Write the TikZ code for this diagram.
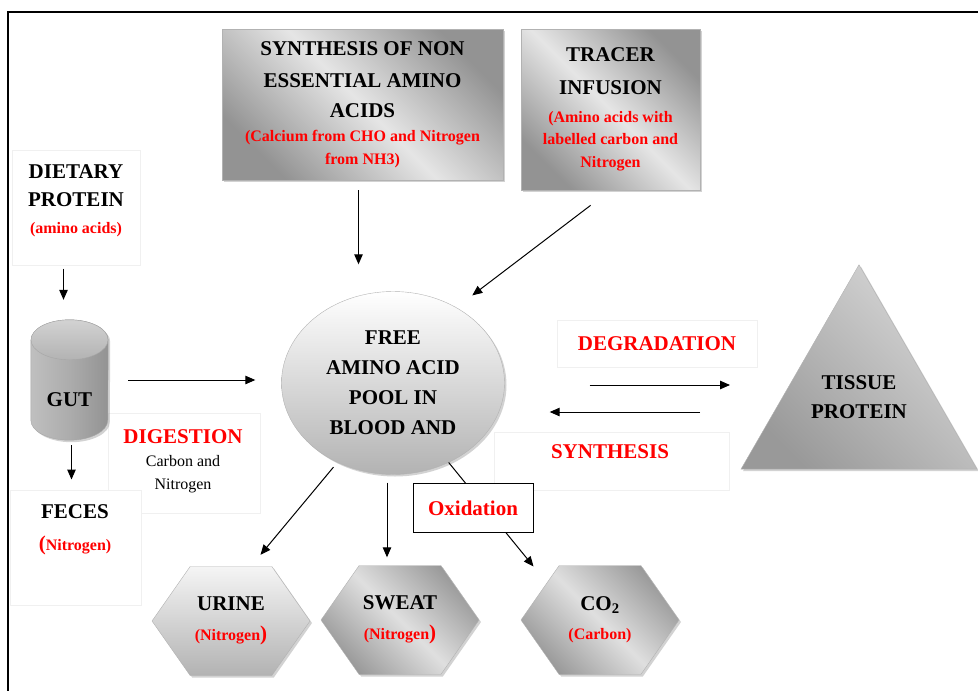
\documentclass[tikz,border=0pt]{standalone}
\usepackage{fontspec}
\setmainfont{Liberation Serif}
\usetikzlibrary{shapes.geometric,shapes.symbols,shadows,arrows.meta}

\newcommand\redtxt[1]{{\color{red}\fontsize{16}{22}\selectfont #1}}
\newcommand\thintxt[1]{{\mdseries\fontsize{16}{22}\selectfont #1}}

\begin{document}
\begin{tikzpicture}[x=1pt, y=-1pt,
    txt/.style={font=\fontsize{21}{30}\selectfont\bfseries, align=center, inner sep=0pt},
    faint/.style={draw=gray!12, fill=white, line width=1pt, inner sep=0pt},
    shade/.style={drop shadow={shadow xshift=2pt, shadow yshift=-2pt, fill=gray!70}},
    greybox/.style={txt, shade, draw=gray!60, left color=gray!85, right color=gray!85, middle color=gray!20, shading angle=135},
    hexa/.style={txt, shade, signal, signal to=east and west, signal pointer angle=110, draw=gray!60, minimum width=158, minimum height=109},
    conn/.style={-{Triangle[length=10pt,width=8.5pt]}, line width=1pt}]
  \useasboundingbox (0,0) rectangle (978,691);
  \draw[line width=1.2pt] (978,12) -- (8,12) -- (8,691);

  % white label boxes on the left
  \node[faint, minimum width=128, minimum height=115] (dietbox) at (76,207.5) {};
  \node[txt] (diet) at (76,201) {DIETARY\\[-2pt]PROTEIN\\[-3.5pt]\redtxt{(amino acids)}};
  \node[faint, minimum width=152, minimum height=100] (digbox) at (184,463) {};
  \node[txt] (dig) at (183,461) {\textcolor{red}{DIGESTION}\\[-7pt]\thintxt{Carbon and}\\[-7pt]\thintxt{Nitrogen}};
  \node[faint, minimum width=131, minimum height=115] (fecesbox) at (75.5,547.5) {};
  \node[txt] (feces) at (75,530) {FECES\\[2pt]\redtxt{{\fontsize{21}{22}\selectfont(}Nitrogen)}};

  % gut cylinder
  \node[inner sep=0pt, minimum width=77, minimum height=120] (gut) at (69.5,380) {};
  \path[shade, draw=gray!70, left color=gray!50, right color=gray!85, middle color=gray!65]
    ([yshift=-20pt]gut.north west) -- ([yshift=20pt]gut.south west)
    arc[start angle=180, end angle=360, x radius=38.5pt, y radius=20pt]
    -- ([yshift=-20pt]gut.north east)
    arc[start angle=0, end angle=180, x radius=38.5pt, y radius=20pt] -- cycle;
  \draw[gray!70, top color=gray!35, bottom color=gray!60] ([yshift=-20pt]gut.north) ellipse[x radius=38.5pt, y radius=20pt];
  \node[txt] (guttxt) at ([yshift=-20pt]gut.center) {GUT};

  % sources at the top
  \node[greybox, minimum width=281, minimum height=151] (synth) at (362.5,104.5)
    {SYNTHESIS OF NON\\[2pt]ESSENTIAL AMINO\\ACIDS\\[-6pt]\redtxt{(Calcium from CHO and Nitrogen}\\[-7pt]\redtxt{from NH3)}};
  \node[greybox, minimum width=179, minimum height=161] (tracer) at (610.5,109.5)
    {TRACER\\[3pt]INFUSION\\[-2pt]\redtxt{(Amino acids with}\\[-8pt]\redtxt{labelled carbon and}\\[-7pt]\redtxt{Nitrogen}};

  % the pool
  \node[txt, shade, ellipse, minimum width=223, minimum height=183, draw=gray!60, top color=white, bottom color=gray!60]
    (pool) at (393,383) {FREE\\AMINO ACID\\POOL IN\\BLOOD AND};

  % tissue side
  \node[faint, txt, text=red, minimum width=200, minimum height=47] (degr) at (657,343.5) {DEGRADATION};
  \node[faint, minimum width=235, minimum height=58] (synlabbox) at (611.5,461) {};
  \node[txt, text=red] (synlab) at (610,452) {SYNTHESIS};
  \node[shade, regular polygon, regular polygon sides=3, minimum size=272.5, draw=gray!60,
        left color=gray!80, right color=gray!30, shading angle=135,
        label={[txt, yshift=4pt]center:TISSUE\\[-1pt]PROTEIN}] (tissue) at (859,401) {};

  % outputs
  \node[hexa, top color=gray!8, bottom color=gray!60] (urine) at (231,621)
    {URINE\\\redtxt{(Nitrogen{\fontsize{21}{22}\selectfont)}}};
  \node[hexa, left color=gray!80, right color=gray!80, middle color=gray!25, shading angle=135] (sweat) at (400,620)
    {SWEAT\\\redtxt{(Nitrogen{\fontsize{21}{22}\selectfont)}}};
  \node[hexa, left color=gray!80, right color=gray!80, middle color=gray!25, shading angle=135] (co2) at (600,620)
    {CO\textsubscript{2}\\[-1pt]\redtxt{(Carbon)}};

  % connectors
  \draw[conn, shorten <=3pt, shorten >=20pt] ([xshift=-6pt]gut.north |- dietbox.south) -- ([xshift=-6pt]gut.north);
  \draw[conn, shorten <=5pt, shorten >=10pt] ([xshift=2pt]gut.south) -- ([xshift=2pt]gut.south |- fecesbox.north);
  \draw[conn, shorten <=20pt, shorten >=26pt] (gut.east) -- (gut.east -| pool.west);
  \draw[conn, shorten <=10pt, shorten >=27pt] ([xshift=-4pt]synth.south) -- ([xshift=-4pt]synth.south |- pool.north);
  \draw[conn, shorten <=25pt, shorten >=20pt] (tracer.south) -- (pool.50);
  \draw[conn, shorten <=85pt, shorten >=129pt] ([yshift=-2pt]pool.east) -- ([yshift=-2pt]pool.east -| tissue);
  \draw[conn, shorten <=159pt, shorten >=45pt] ([yshift=-29pt]pool.east -| tissue) -- ([yshift=-29pt]pool.east);
  \draw[conn, shorten <=6pt, shorten >=15pt] (pool.235) -- (urine.70);
  \draw[conn, shorten <=8pt, shorten >=8pt] ([xshift=-6pt]pool.south) -- ([xshift=-6pt]pool.south |- sweat.north);
  \draw[conn, shorten >=21pt] (pool.-55) -- (co2.145);
  \node[txt, text=red, draw=black, fill=white, line width=1pt, minimum width=120, minimum height=49] (ox) at (473,508) {Oxidation};
\end{tikzpicture}
\end{document}
